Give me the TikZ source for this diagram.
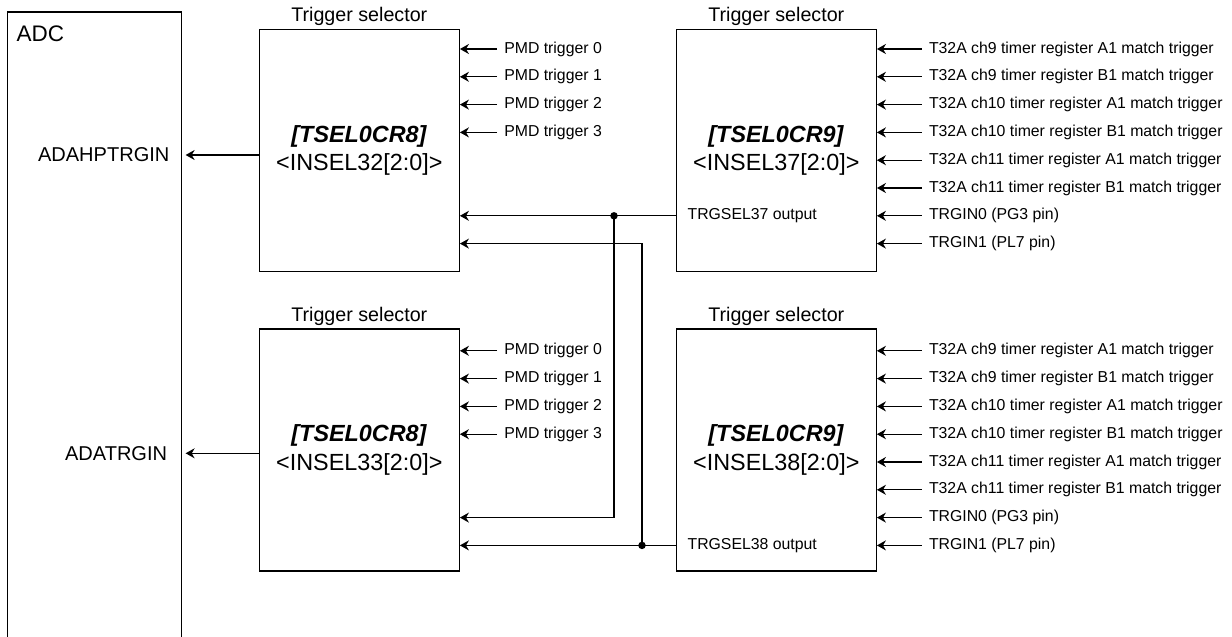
\documentclass[tikz,border=0pt]{standalone}
\usepackage{fontspec}
\setmainfont{Liberation Sans}
\usetikzlibrary{arrows.meta}

\begin{document}
\begin{tikzpicture}[line width=0.7pt,
		selbox/.style={draw, minimum width=4cm, minimum height=4.84cm, align=center, font=\fontsize{13.3}{16}\selectfont,
			label={[font=\fontsize{11.2}{13}\selectfont, inner sep=1.5pt]above:Trigger selector}},
		sig/.style={anchor=west, font=\fontsize{9}{11}\selectfont, inner xsep=3.8pt, inner ysep=1pt},
		pin/.style={anchor=east, font=\fontsize{11.4}{13}\selectfont, inner sep=0pt},
		arr/.style={-{Stealth[length=1.8mm, width=2mm]}}]
			\useasboundingbox (0,0) rectangle (24.64,-12.72);

			% ADC block, open at the bottom
			\node[inner sep=0, minimum width=3.46cm, minimum height=12.466cm] (adc) at (1.89,-6.487) {};
			\draw (adc.south west) |- (adc.north east) -- (adc.south east);
			\node[anchor=west, font=\fontsize{12.8}{14}\selectfont, inner sep=0pt] (adcname) at (0.32,-0.68) {ADC};
			\node[pin] (hptrg) at (3.4,  -3.1)   {ADAHPTRGIN};
			\node[pin] (atrg)  at (3.354,-9.066) {ADATRGIN};

			% trigger selectors
			\node[selbox] (ts32) at (7.186, -3.017) {\textbf{\textit{[TSEL0CR8]}}\\<INSEL32[2:0]>};
			\node[selbox] (ts37) at (15.526,-3.017) {\textbf{\textit{[TSEL0CR9]}}\\<INSEL37[2:0]>};
			\node[selbox] (ts33) at (7.186, -9.0)   {\textbf{\textit{[TSEL0CR8]}}\\<INSEL33[2:0]>};
			\node[selbox] (ts38) at (15.526,-9.0)   {\textbf{\textit{[TSEL0CR9]}}\\<INSEL38[2:0]>};

			\draw[arr] (ts32.west |- hptrg) -- ([xshift=0.08cm]adc.east |- hptrg);
			\draw[arr] (ts33.west |- atrg)  -- ([xshift=0.08cm]adc.east |- atrg);

			% PMD inputs
			\node[sig] (a0) at (9.94,-0.98)  {PMD trigger 0};
			\node[sig] (a1) at (9.94,-1.536) {PMD trigger 1};
			\node[sig] (a2) at (9.94,-2.092) {PMD trigger 2};
			\node[sig] (a3) at (9.94,-2.648) {PMD trigger 3};
			\node[sig] (c0) at (9.94,-7.016) {PMD trigger 0};
			\node[sig] (c1) at (9.94,-7.572) {PMD trigger 1};
			\node[sig] (c2) at (9.94,-8.128) {PMD trigger 2};
			\node[sig] (c3) at (9.94,-8.684) {PMD trigger 3};
			\path (a0.west) edge[arr] (a0.west -| ts32.east);
			\path (a1.west) edge[arr] (a1.west -| ts32.east);
			\path (a2.west) edge[arr] (a2.west -| ts32.east);
			\path (a3.west) edge[arr] (a3.west -| ts32.east);
			\path (c0.west) edge[arr] (c0.west -| ts33.east);
			\path (c1.west) edge[arr] (c1.west -| ts33.east);
			\path (c2.west) edge[arr] (c2.west -| ts33.east);
			\path (c3.west) edge[arr] (c3.west -| ts33.east);

			% T32A and pin inputs
			\node[sig] (b0) at (18.434,-0.98)  {T32A ch9 timer register A1 match trigger};
			\node[sig] (b1) at (18.434,-1.536) {T32A ch9 timer register B1 match trigger};
			\node[sig] (b2) at (18.434,-2.092) {T32A ch10 timer register A1 match trigger};
			\node[sig] (b3) at (18.434,-2.648) {T32A ch10 timer register B1 match trigger};
			\node[sig] (b4) at (18.434,-3.204) {T32A ch11 timer register A1 match trigger};
			\node[sig] (b5) at (18.434,-3.76)  {T32A ch11 timer register B1 match trigger};
			\node[sig] (b6) at (18.434,-4.316) {TRGIN0 (PG3 pin)};
			\node[sig] (b7) at (18.434,-4.872) {TRGIN1 (PL7 pin)};
			\node[sig] (d0) at (18.434,-7.016) {T32A ch9 timer register A1 match trigger};
			\node[sig] (d1) at (18.434,-7.572) {T32A ch9 timer register B1 match trigger};
			\node[sig] (d2) at (18.434,-8.128) {T32A ch10 timer register A1 match trigger};
			\node[sig] (d3) at (18.434,-8.684) {T32A ch10 timer register B1 match trigger};
			\node[sig] (d4) at (18.434,-9.24)  {T32A ch11 timer register A1 match trigger};
			\node[sig] (d5) at (18.434,-9.796) {T32A ch11 timer register B1 match trigger};
			\node[sig] (d6) at (18.434,-10.352) {TRGIN0 (PG3 pin)};
			\node[sig] (d7) at (18.434,-10.908) {TRGIN1 (PL7 pin)};
			\path (b0.west) edge[arr] (b0.west -| ts37.east);
			\path (b1.west) edge[arr] (b1.west -| ts37.east);
			\path (b2.west) edge[arr] (b2.west -| ts37.east);
			\path (b3.west) edge[arr] (b3.west -| ts37.east);
			\path (b4.west) edge[arr] (b4.west -| ts37.east);
			\path (b5.west) edge[arr] (b5.west -| ts37.east);
			\path (b6.west) edge[arr] (b6.west -| ts37.east);
			\path (b7.west) edge[arr] (b7.west -| ts37.east);
			\path (d0.west) edge[arr] (d0.west -| ts38.east);
			\path (d1.west) edge[arr] (d1.west -| ts38.east);
			\path (d2.west) edge[arr] (d2.west -| ts38.east);
			\path (d3.west) edge[arr] (d3.west -| ts38.east);
			\path (d4.west) edge[arr] (d4.west -| ts38.east);
			\path (d5.west) edge[arr] (d5.west -| ts38.east);
			\path (d6.west) edge[arr] (d6.west -| ts38.east);
			\path (d7.west) edge[arr] (d7.west -| ts38.east);

			% cross-coupled selector outputs
			\node[sig] (o37) at (13.606,-4.316)  {TRGSEL37 output};
			\node[sig] (o38) at (13.606,-10.908) {TRGSEL38 output};
			\coordinate (a7) at (ts32.east |- 0,-4.872);
			\coordinate (c6) at (ts33.east |- 0,-10.352);
			\coordinate (j37) at (12.28,-4.316);
			\coordinate (j38) at (12.84,-10.908);

			\draw[arr] (o37.west -| ts37.west) -- (o37.west -| ts32.east);
			\draw[arr] (j37) |- (c6);
			\draw[arr] (o38.west -| ts38.west) -- (o38.west -| ts33.east);
			\draw[arr] (j38) |- (a7);
			\fill (j37) circle (0.075);
			\fill (j38) circle (0.075);

		\end{tikzpicture}
\end{document}
